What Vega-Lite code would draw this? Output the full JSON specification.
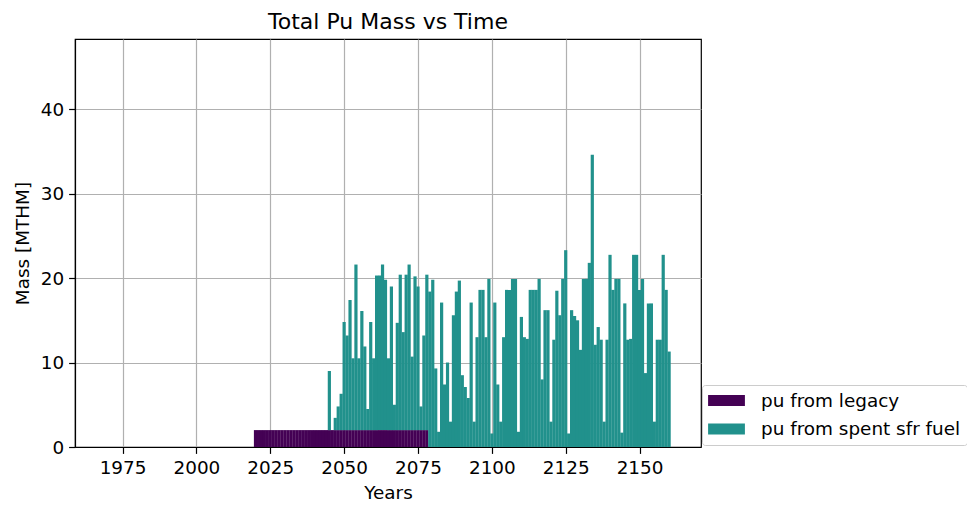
{
  "$schema": "https://vega.github.io/schema/vega-lite/v6.json",
  "autosize": "none",
  "width": 626,
  "height": 408,
  "padding": {"left": 75, "top": 39, "right": 266, "bottom": 61},
  "background": "white",
  "title": {"text": "Total Pu Mass vs Time", "fontSize": 22, "font": "DejaVu Sans", "fontWeight": "normal", "color": "black", "baseline": "bottom", "offset": -17, "anchor": "middle"},
  "data": {"values": [
    {"year": 2020, "series": "pu from legacy", "mass": 2.0},
    {"year": 2021, "series": "pu from legacy", "mass": 2.0},
    {"year": 2022, "series": "pu from legacy", "mass": 2.0},
    {"year": 2023, "series": "pu from legacy", "mass": 2.0},
    {"year": 2024, "series": "pu from legacy", "mass": 2.0},
    {"year": 2025, "series": "pu from legacy", "mass": 2.0},
    {"year": 2026, "series": "pu from legacy", "mass": 2.0},
    {"year": 2027, "series": "pu from legacy", "mass": 2.0},
    {"year": 2028, "series": "pu from legacy", "mass": 2.0},
    {"year": 2029, "series": "pu from legacy", "mass": 2.0},
    {"year": 2030, "series": "pu from legacy", "mass": 2.0},
    {"year": 2031, "series": "pu from legacy", "mass": 2.0},
    {"year": 2032, "series": "pu from legacy", "mass": 2.0},
    {"year": 2033, "series": "pu from legacy", "mass": 2.0},
    {"year": 2034, "series": "pu from legacy", "mass": 2.0},
    {"year": 2035, "series": "pu from legacy", "mass": 2.0},
    {"year": 2036, "series": "pu from legacy", "mass": 2.0},
    {"year": 2037, "series": "pu from legacy", "mass": 2.0},
    {"year": 2038, "series": "pu from legacy", "mass": 2.0},
    {"year": 2039, "series": "pu from legacy", "mass": 2.0},
    {"year": 2040, "series": "pu from legacy", "mass": 2.0},
    {"year": 2041, "series": "pu from legacy", "mass": 2.0},
    {"year": 2042, "series": "pu from legacy", "mass": 2.0},
    {"year": 2043, "series": "pu from legacy", "mass": 2.0},
    {"year": 2044, "series": "pu from legacy", "mass": 2.0},
    {"year": 2045, "series": "pu from legacy", "mass": 2.0},
    {"year": 2046, "series": "pu from legacy", "mass": 2.0},
    {"year": 2047, "series": "pu from legacy", "mass": 2.0},
    {"year": 2048, "series": "pu from legacy", "mass": 2.0},
    {"year": 2049, "series": "pu from legacy", "mass": 2.0},
    {"year": 2050, "series": "pu from legacy", "mass": 2.0},
    {"year": 2051, "series": "pu from legacy", "mass": 2.0},
    {"year": 2052, "series": "pu from legacy", "mass": 2.0},
    {"year": 2053, "series": "pu from legacy", "mass": 2.0},
    {"year": 2054, "series": "pu from legacy", "mass": 2.0},
    {"year": 2055, "series": "pu from legacy", "mass": 2.0},
    {"year": 2056, "series": "pu from legacy", "mass": 2.0},
    {"year": 2057, "series": "pu from legacy", "mass": 2.0},
    {"year": 2058, "series": "pu from legacy", "mass": 2.0},
    {"year": 2059, "series": "pu from legacy", "mass": 2.0},
    {"year": 2060, "series": "pu from legacy", "mass": 2.0},
    {"year": 2061, "series": "pu from legacy", "mass": 2.0},
    {"year": 2062, "series": "pu from legacy", "mass": 2.0},
    {"year": 2063, "series": "pu from legacy", "mass": 2.0},
    {"year": 2064, "series": "pu from legacy", "mass": 2.0},
    {"year": 2065, "series": "pu from legacy", "mass": 2.0},
    {"year": 2066, "series": "pu from legacy", "mass": 2.0},
    {"year": 2067, "series": "pu from legacy", "mass": 2.0},
    {"year": 2068, "series": "pu from legacy", "mass": 2.0},
    {"year": 2069, "series": "pu from legacy", "mass": 2.0},
    {"year": 2070, "series": "pu from legacy", "mass": 2.0},
    {"year": 2071, "series": "pu from legacy", "mass": 2.0},
    {"year": 2072, "series": "pu from legacy", "mass": 2.0},
    {"year": 2073, "series": "pu from legacy", "mass": 2.0},
    {"year": 2074, "series": "pu from legacy", "mass": 2.0},
    {"year": 2075, "series": "pu from legacy", "mass": 2.0},
    {"year": 2076, "series": "pu from legacy", "mass": 2.0},
    {"year": 2077, "series": "pu from legacy", "mass": 2.0},
    {"year": 2078, "series": "pu from legacy", "mass": 2.0},
    {"year": 2045, "series": "pu from spent sfr fuel", "mass": 7.0},
    {"year": 2046, "series": "pu from spent sfr fuel", "mass": 0.0},
    {"year": 2047, "series": "pu from spent sfr fuel", "mass": 1.45},
    {"year": 2048, "series": "pu from spent sfr fuel", "mass": 2.8},
    {"year": 2049, "series": "pu from spent sfr fuel", "mass": 4.3},
    {"year": 2050, "series": "pu from spent sfr fuel", "mass": 12.8},
    {"year": 2051, "series": "pu from spent sfr fuel", "mass": 11.2},
    {"year": 2052, "series": "pu from spent sfr fuel", "mass": 15.4},
    {"year": 2053, "series": "pu from spent sfr fuel", "mass": 8.5},
    {"year": 2054, "series": "pu from spent sfr fuel", "mass": 19.6},
    {"year": 2055, "series": "pu from spent sfr fuel", "mass": 8.5},
    {"year": 2056, "series": "pu from spent sfr fuel", "mass": 14.1},
    {"year": 2057, "series": "pu from spent sfr fuel", "mass": 9.9},
    {"year": 2058, "series": "pu from spent sfr fuel", "mass": 2.5},
    {"year": 2059, "series": "pu from spent sfr fuel", "mass": 12.8},
    {"year": 2060, "series": "pu from spent sfr fuel", "mass": 8.5},
    {"year": 2061, "series": "pu from spent sfr fuel", "mass": 18.3},
    {"year": 2062, "series": "pu from spent sfr fuel", "mass": 18.3},
    {"year": 2063, "series": "pu from spent sfr fuel", "mass": 19.6},
    {"year": 2064, "series": "pu from spent sfr fuel", "mass": 17.8},
    {"year": 2065, "series": "pu from spent sfr fuel", "mass": 8.5},
    {"year": 2066, "series": "pu from spent sfr fuel", "mass": 17.0},
    {"year": 2067, "series": "pu from spent sfr fuel", "mass": 3.0},
    {"year": 2068, "series": "pu from spent sfr fuel", "mass": 12.7},
    {"year": 2069, "series": "pu from spent sfr fuel", "mass": 18.4},
    {"year": 2070, "series": "pu from spent sfr fuel", "mass": 11.6},
    {"year": 2071, "series": "pu from spent sfr fuel", "mass": 18.4},
    {"year": 2072, "series": "pu from spent sfr fuel", "mass": 19.6},
    {"year": 2073, "series": "pu from spent sfr fuel", "mass": 8.7},
    {"year": 2074, "series": "pu from spent sfr fuel", "mass": 18.2},
    {"year": 2075, "series": "pu from spent sfr fuel", "mass": 17.0},
    {"year": 2076, "series": "pu from spent sfr fuel", "mass": 2.8},
    {"year": 2077, "series": "pu from spent sfr fuel", "mass": 11.2},
    {"year": 2078, "series": "pu from spent sfr fuel", "mass": 18.4},
    {"year": 2079, "series": "pu from spent sfr fuel", "mass": 18.4},
    {"year": 2080, "series": "pu from spent sfr fuel", "mass": 19.8},
    {"year": 2081, "series": "pu from spent sfr fuel", "mass": 9.3},
    {"year": 2082, "series": "pu from spent sfr fuel", "mass": 1.8},
    {"year": 2083, "series": "pu from spent sfr fuel", "mass": 17.1},
    {"year": 2084, "series": "pu from spent sfr fuel", "mass": 7.4},
    {"year": 2085, "series": "pu from spent sfr fuel", "mass": 10.0},
    {"year": 2086, "series": "pu from spent sfr fuel", "mass": 3.0},
    {"year": 2087, "series": "pu from spent sfr fuel", "mass": 15.6},
    {"year": 2088, "series": "pu from spent sfr fuel", "mass": 18.4},
    {"year": 2089, "series": "pu from spent sfr fuel", "mass": 19.7},
    {"year": 2090, "series": "pu from spent sfr fuel", "mass": 8.5},
    {"year": 2091, "series": "pu from spent sfr fuel", "mass": 7.1},
    {"year": 2092, "series": "pu from spent sfr fuel", "mass": 5.8},
    {"year": 2093, "series": "pu from spent sfr fuel", "mass": 17.1},
    {"year": 2094, "series": "pu from spent sfr fuel", "mass": 3.0},
    {"year": 2095, "series": "pu from spent sfr fuel", "mass": 13.0},
    {"year": 2096, "series": "pu from spent sfr fuel", "mass": 18.6},
    {"year": 2097, "series": "pu from spent sfr fuel", "mass": 18.6},
    {"year": 2098, "series": "pu from spent sfr fuel", "mass": 13.0},
    {"year": 2099, "series": "pu from spent sfr fuel", "mass": 19.9},
    {"year": 2100, "series": "pu from spent sfr fuel", "mass": 1.6},
    {"year": 2101, "series": "pu from spent sfr fuel", "mass": 17.1},
    {"year": 2102, "series": "pu from spent sfr fuel", "mass": 7.4},
    {"year": 2103, "series": "pu from spent sfr fuel", "mass": 3.0},
    {"year": 2104, "series": "pu from spent sfr fuel", "mass": 13.0},
    {"year": 2105, "series": "pu from spent sfr fuel", "mass": 18.6},
    {"year": 2106, "series": "pu from spent sfr fuel", "mass": 18.6},
    {"year": 2107, "series": "pu from spent sfr fuel", "mass": 19.9},
    {"year": 2108, "series": "pu from spent sfr fuel", "mass": 19.9},
    {"year": 2109, "series": "pu from spent sfr fuel", "mass": 1.8},
    {"year": 2110, "series": "pu from spent sfr fuel", "mass": 15.4},
    {"year": 2111, "series": "pu from spent sfr fuel", "mass": 13.0},
    {"year": 2112, "series": "pu from spent sfr fuel", "mass": 12.8},
    {"year": 2113, "series": "pu from spent sfr fuel", "mass": 18.6},
    {"year": 2114, "series": "pu from spent sfr fuel", "mass": 18.6},
    {"year": 2115, "series": "pu from spent sfr fuel", "mass": 18.6},
    {"year": 2116, "series": "pu from spent sfr fuel", "mass": 19.9},
    {"year": 2117, "series": "pu from spent sfr fuel", "mass": 8.0},
    {"year": 2118, "series": "pu from spent sfr fuel", "mass": 16.2},
    {"year": 2119, "series": "pu from spent sfr fuel", "mass": 16.2},
    {"year": 2120, "series": "pu from spent sfr fuel", "mass": 3.0},
    {"year": 2121, "series": "pu from spent sfr fuel", "mass": 12.7},
    {"year": 2122, "series": "pu from spent sfr fuel", "mass": 18.5},
    {"year": 2123, "series": "pu from spent sfr fuel", "mass": 15.6},
    {"year": 2124, "series": "pu from spent sfr fuel", "mass": 19.9},
    {"year": 2125, "series": "pu from spent sfr fuel", "mass": 23.3},
    {"year": 2126, "series": "pu from spent sfr fuel", "mass": 1.6},
    {"year": 2127, "series": "pu from spent sfr fuel", "mass": 16.2},
    {"year": 2128, "series": "pu from spent sfr fuel", "mass": 15.5},
    {"year": 2129, "series": "pu from spent sfr fuel", "mass": 15.0},
    {"year": 2130, "series": "pu from spent sfr fuel", "mass": 11.5},
    {"year": 2131, "series": "pu from spent sfr fuel", "mass": 19.9},
    {"year": 2132, "series": "pu from spent sfr fuel", "mass": 19.9},
    {"year": 2133, "series": "pu from spent sfr fuel", "mass": 21.8},
    {"year": 2134, "series": "pu from spent sfr fuel", "mass": 34.6},
    {"year": 2135, "series": "pu from spent sfr fuel", "mass": 12.1},
    {"year": 2136, "series": "pu from spent sfr fuel", "mass": 14.2},
    {"year": 2137, "series": "pu from spent sfr fuel", "mass": 12.7},
    {"year": 2138, "series": "pu from spent sfr fuel", "mass": 3.0},
    {"year": 2139, "series": "pu from spent sfr fuel", "mass": 12.7},
    {"year": 2140, "series": "pu from spent sfr fuel", "mass": 22.75},
    {"year": 2141, "series": "pu from spent sfr fuel", "mass": 18.6},
    {"year": 2142, "series": "pu from spent sfr fuel", "mass": 19.9},
    {"year": 2143, "series": "pu from spent sfr fuel", "mass": 19.9},
    {"year": 2144, "series": "pu from spent sfr fuel", "mass": 1.7},
    {"year": 2145, "series": "pu from spent sfr fuel", "mass": 17.0},
    {"year": 2146, "series": "pu from spent sfr fuel", "mass": 12.7},
    {"year": 2147, "series": "pu from spent sfr fuel", "mass": 12.8},
    {"year": 2148, "series": "pu from spent sfr fuel", "mass": 22.75},
    {"year": 2149, "series": "pu from spent sfr fuel", "mass": 22.75},
    {"year": 2150, "series": "pu from spent sfr fuel", "mass": 18.6},
    {"year": 2151, "series": "pu from spent sfr fuel", "mass": 19.9},
    {"year": 2152, "series": "pu from spent sfr fuel", "mass": 8.75},
    {"year": 2153, "series": "pu from spent sfr fuel", "mass": 17.0},
    {"year": 2154, "series": "pu from spent sfr fuel", "mass": 17.0},
    {"year": 2155, "series": "pu from spent sfr fuel", "mass": 3.0},
    {"year": 2156, "series": "pu from spent sfr fuel", "mass": 12.7},
    {"year": 2157, "series": "pu from spent sfr fuel", "mass": 12.7},
    {"year": 2158, "series": "pu from spent sfr fuel", "mass": 22.75},
    {"year": 2159, "series": "pu from spent sfr fuel", "mass": 18.6},
    {"year": 2160, "series": "pu from spent sfr fuel", "mass": 11.3}
  ]},
  "mark": {"type": "bar", "size": 3.2, "strokeWidth": 0},
  "encoding": {
    "x": {
      "field": "year", "type": "quantitative",
      "scale": {"domain": [1960.6, 2169.1], "nice": false, "zero": false},
      "axis": {"values": [1975, 2000, 2025, 2050, 2075, 2100, 2125, 2150], "format": "d", "title": "Years", "titlePadding": 7}
    },
    "y": {
      "field": "mass", "type": "quantitative", "stack": "zero",
      "scale": {"domain": [0, 48.3], "nice": false},
      "axis": {"values": [0, 10, 20, 30, 40], "title": "Mass [MTHM]", "titlePadding": 8}
    },
    "color": {
      "field": "series", "type": "nominal",
      "scale": {"domain": ["pu from legacy", "pu from spent sfr fuel"], "range": ["#440154", "#21918c"]},
      "legend": {
        "title": null, "orient": "none", "legendX": 627, "legendY": 346,
        "symbolType": "M-2,-0.6H2V0.6H-2Z", "symbolSize": 339, "symbolStrokeWidth": 0, "symbolOpacity": 1,
        "symbolOffset": 9, "labelOffset": 25, "labelLimit": 400,
        "labelFontSize": 18.4, "labelFont": "DejaVu Sans", "labelColor": "black",
        "rowPadding": 9.6, "padding": 6, "fillColor": "white", "strokeColor": "#cccccc", "cornerRadius": 3
      }
    },
    "order": {"field": "series", "type": "nominal", "sort": "ascending"}
  },
  "config": {
    "view": {"stroke": "black", "strokeWidth": 1.2},
    "axis": {
      "zindex": 1, "grid": true, "gridColor": "#b0b0b0", "gridWidth": 1.2,
      "domainColor": "black", "domainWidth": 1.2, "tickColor": "black", "tickWidth": 1.2, "tickSize": 6.4,
      "labelFont": "DejaVu Sans", "labelFontSize": 18.4, "labelColor": "black", "labelPadding": 5,
      "titleFont": "DejaVu Sans", "titleFontSize": 18.4, "titleFontWeight": "normal", "titleColor": "black"
    }
  }
}
